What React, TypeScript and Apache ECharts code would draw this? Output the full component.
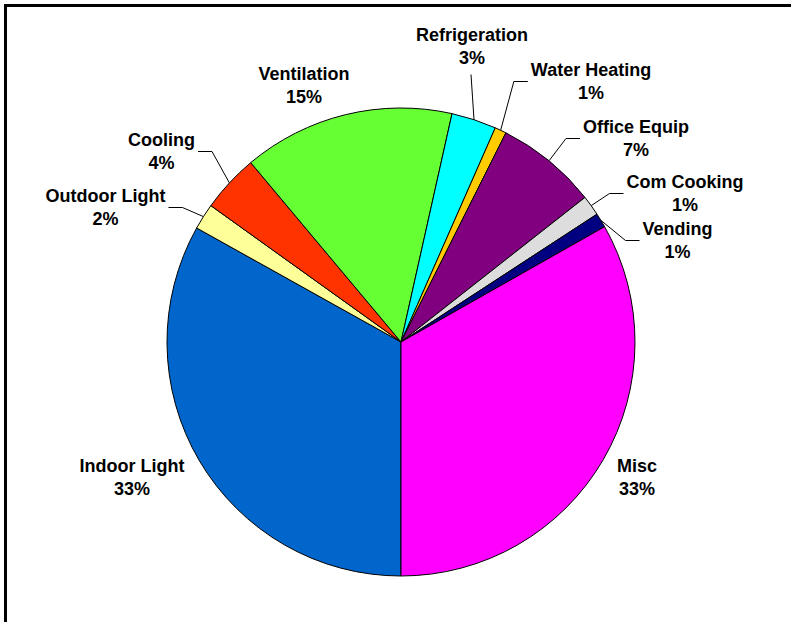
import React, { useEffect, useRef } from "react";
import * as echarts from "echarts";

// Data (percent shares), clockwise from 6 o'clock
const CATEGORIES = [
  "Indoor Light",
  "Outdoor Light",
  "Cooling",
  "Ventilation",
  "Refrigeration",
  "Water Heating",
  "Office Equip",
  "Com Cooking",
  "Vending",
  "Misc",
];
const VALUES = [33.1, 1.8, 4.0, 14.6, 3.1, 0.8, 7.0, 1.4, 1.0, 33.2];

// Styles / layout (kept apart from the data)
const COLORS = [
  "#0066CC",
  "#FFFF99",
  "#FF3300",
  "#66FF33",
  "#00FFFF",
  "#FFCC00",
  "#800080",
  "#DDDDDD",
  "#000080",
  "#FF00FF",
];
const LABEL_CENTERS: number[][] = [
  [132, 477.5],
  [105.5, 207.5],
  [161.5, 151.5],
  [304, 85],
  [472, 46.5],
  [591, 81.5],
  [636, 138.5],
  [685, 193.5],
  [677.5, 240.5],
  [637, 477.5],
];
const SHOW_LINE = [false, true, true, false, true, true, true, true, true, false];

export default function App() {
  const ref = useRef<HTMLDivElement>(null);

  useEffect(() => {
    document.body.style.margin = "0";
    if (!ref.current) return;
    const chart = echarts.init(ref.current, undefined, { renderer: "svg" });

    const data = CATEGORIES.map((name, i) => ({
      name,
      value: VALUES[i],
      itemStyle: { color: COLORS[i] },
      labelLine: { show: SHOW_LINE[i] },
    }));

    chart.setOption({
      animation: false,
      backgroundColor: "#ffffff",
      graphic: [
        {
          type: "rect",
          shape: { x: 5.5, y: 5.5, width: 900, height: 900 },
          style: { fill: "none", stroke: "#000000", lineWidth: 3 },
          silent: true,
        },
      ],
      series: [
        {
          type: "pie",
          center: [401, 342],
          radius: 234,
          startAngle: 270,
          clockwise: true,
          avoidLabelOverlap: false,
          percentPrecision: 1,
          itemStyle: { borderColor: "#000000", borderWidth: 1 },
          emphasis: { disabled: true },
          label: {
            show: true,
            position: "outside",
            formatter: (p: any) => `${p.name}\n${Math.round(p.percent)}%`,
            fontFamily: "Liberation Sans, Arial, sans-serif",
            fontWeight: "bold",
            fontSize: 18,
            lineHeight: 23,
            color: "#000000",
            align: "center",
            overflow: "none",
          },
          labelLine: {
            show: true,
            length: 10,
            length2: 10,
            lineStyle: { color: "#000000", width: 1 },
          },
          labelLayout: (params: any) => {
            const i = params.dataIndex;
            const [cx, cy] = LABEL_CENTERS[i];
            const w = params.labelRect.width;
            const h = params.labelRect.height;
            const out: any = {
              x: cx,
              y: cy,
              align: "center",
              verticalAlign: "middle",
            };
            if (SHOW_LINE[i] && params.labelLinePoints) {
              const start = params.labelLinePoints[0];
              const left = cx - w / 2;
              const right = cx + w / 2;
              if (start[0] > left && start[0] < right) {
                const end = [cx - 1, cy + h / 2 + 5];
                out.labelLinePoints = [
                  start,
                  [(start[0] + end[0]) / 2, (start[1] + end[1]) / 2],
                  end,
                ];
              } else if (start[0] <= left) {
                out.labelLinePoints = [start, [left - 17, cy], [left - 3, cy]];
              } else {
                out.labelLinePoints = [start, [right + 17, cy], [right + 3, cy]];
              }
            }
            return out;
          },
          data,
        },
      ],
    });

    return () => {
      chart.dispose();
    };
  }, []);

  return <div ref={ref} style={{ width: 791, height: 622 }} />;
}
